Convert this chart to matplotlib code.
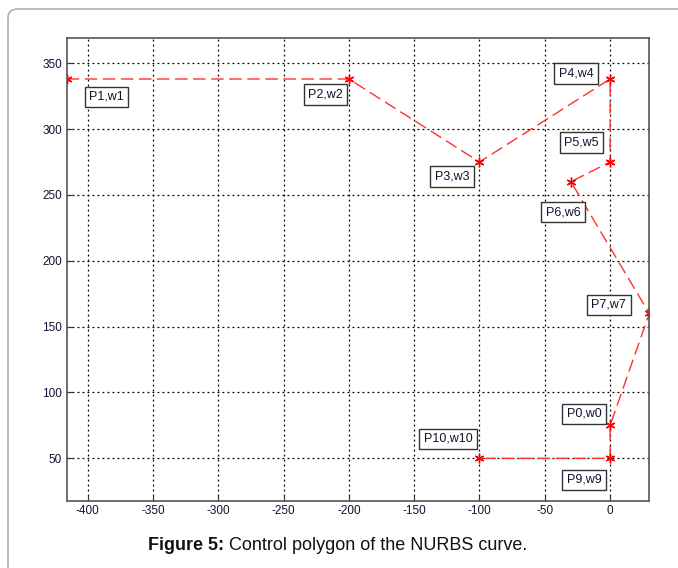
import matplotlib
matplotlib.use("Agg")
import matplotlib.pyplot as plt
from matplotlib.patches import FancyBboxPatch

plt.rcParams['font.family'] = ['Liberation Sans', 'DejaVu Sans']

# control polygon points (in order)
px = [-416, -200, -100, 0, 0, -30, 30, 0, 0, -100]
py = [338, 338, 275, 338, 275, 260, 160, 75, 50, 50]

labels = ["P1,w1", "P2,w2", "P3,w3", "P4,w4", "P5,w5", "P6,w6", "P7,w7", "P0,w0", "P9,w9", "P10,w10"]
label_x = [-385.5, -218, -121, -26, -22, -36, -1, -20, -20, -124]
label_y = [324.4, 326, 263.7, 341.9, 289.9, 237, 166.5, 83.7, 33.6, 64.7]

xticks = [-400, -350, -300, -250, -200, -150, -100, -50, 0]
yticks = [50, 100, 150, 200, 250, 300, 350]

fig = plt.figure(figsize=(6.78, 5.68), dpi=100)

# outer page border (rounded, open to right/bottom)
border = FancyBboxPatch((8/678, -0.3), 1.2, 1.3 - 9/568,
                        boxstyle="round,pad=0,rounding_size=0.015",
                        transform=fig.transFigure, fill=False,
                        edgecolor='#b0b0b0', linewidth=1.2, clip_on=False)
fig.patches.append(border)

ax = fig.add_axes([66.7/678, 1 - 500.5/568, (649.3 - 66.7)/678, (500.5 - 37.5)/568])

ax.plot(px, py, linestyle=(0, (9, 4)), color='#ff3030', linewidth=1.0,
        marker=(6, 2, 0), markersize=7, markeredgewidth=1.0,
        markeredgecolor='red', markerfacecolor='red')

for t, lx, ly in zip(labels, label_x, label_y):
    ax.text(lx, ly, t, ha='center', va='center', fontsize=9, color='#111133',
            bbox=dict(boxstyle='square,pad=0.35', facecolor='white', edgecolor='#333333', linewidth=1.0))

ax.set_xlim(-416, 30)
ax.set_ylim(18, 369.5)
ax.set_xticks(xticks)
ax.set_yticks(yticks)
ax.set_xticklabels([str(v) for v in xticks])
ax.set_yticklabels([str(v) for v in yticks])
ax.tick_params(labelsize=8.5, colors='#333333', labelcolor='#111133', direction='in', length=4, width=0.8)
ax.grid(True, linestyle=(0, (1.5, 2.5)), color='black', linewidth=0.9)
for s in ax.spines.values():
    s.set_color('#555555')
    s.set_linewidth(1.2)

y_cap = 1 - 545/568
t1 = fig.text(148/678, y_cap, "Figure 5:", ha='left', va='center', fontsize=13,
              fontweight='bold', color='#111111')
fig.canvas.draw()
bb = t1.get_window_extent()
x2 = fig.transFigure.inverted().transform((bb.x1, 0))[0]
fig.text(x2 + 5/678, y_cap, "Control polygon of the NURBS curve.", ha='left', va='center',
         fontsize=13, color='#111111')

fig.savefig("out.png", dpi=100)
